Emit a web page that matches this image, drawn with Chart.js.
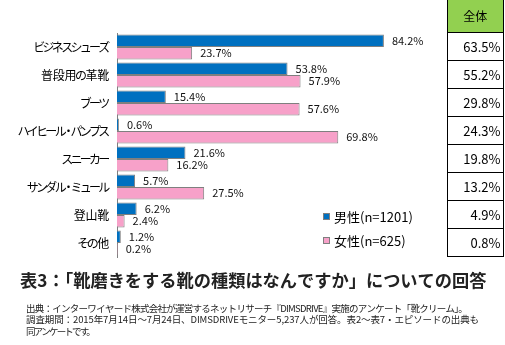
<!DOCTYPE html>
<html>
<head>
<meta charset="utf-8">
<script src="https://cdn.jsdelivr.net/npm/chart.js@4.4.0/dist/chart.umd.min.js"></script>
<style>
    html, body { margin: 0; padding: 0; background: #fff; }
    #chart { display: block; }
</style>
</head>
<body>
<canvas id="chart" width="505" height="345"></canvas>
<script>
const categories = ["ビジネスシューズ", "普段用の革靴", "ブーツ", "ハイヒール・パンプス", "スニーカー", "サンダル・ミュール", "登山靴", "その他"],
    male = [84.2, 53.8, 15.4, 0.6, 21.6, 5.7, 6.2, 1.2],
    female = [23.7, 57.9, 57.6, 69.8, 16.2, 27.5, 2.4, 0.2],
    total = [63.5, 55.2, 29.8, 24.3, 19.8, 13.2, 4.9, 0.8],
    seriesNames = ["男性(n=1201)", "女性(n=625)"],
    tableHead = "全体",
    title = "表3：「靴磨きをする靴の種類はなんですか」についての回答",
    notes = [
        "出典：インターワイヤード株式会社が運営するネットリサーチ『DIMSDRIVE』実施のアンケート「靴クリーム」。",
        "調査期間：2015年7月14日～7月24日、DIMSDRIVEモニター5,237人が回答。表2～表7・エピソードの出典も",
        "同アンケートです。"
    ],
    noteWidths = [441, 453, 68];

const FONT = '"Noto Sans CJK JP", "Noto Sans", sans-serif',
    BLUE = "#0070c0",
    PINK = "#f7a1c9",
    EDGE = "#7f7f7f";

const pct = v => v.toFixed(1) + "%";

// fits text into a given width by adjusting size
function fitFont(ctx, text, width, weight) {
    let size = 20;
    ctx.font = `${weight} ${size}px ${FONT}`;
    size = size * width / ctx.measureText(text).width;
    ctx.font = `${weight} ${size}px ${FONT}`;
}

// fits text into a given width by adjusting letter spacing
function fitSpacing(ctx, text, width) {
    ctx.letterSpacing = "0px";
    const gap = (width - ctx.measureText(text).width) / text.length;
    ctx.letterSpacing = gap + "px";
}

// kana are narrower than kanji in the original font
function advance(ch) {
    if (ch === "・") return 6.5;
    if (/[\u4e00-\u9fff]/.test(ch)) return 11.7;
    return 9.3;
}

function drawLabel(ctx, text, right, cy) {
    const chars = [...text],
        total = chars.reduce((s, ch) => s + advance(ch), 0);
    let x = right - total;
    chars.forEach(ch => {
        const w = advance(ch);
        ctx.fillText(ch, x + w / 2, cy);
        x += w;
    });
}

const overlay = {
    id: "overlay",
    afterDraw(c) {
        const ctx = c.ctx,
            y = c.scales.y,
            area = c.chartArea,
            step = (area.bottom - area.top) / categories.length;

        ctx.save();
        ctx.textBaseline = "middle";

        // category labels
        ctx.font = `12px ${FONT}`;
        ctx.fillStyle = "#000";
        ctx.textAlign = "center";
        y.ticks.forEach((t, i) => {
            drawLabel(ctx, categories[t.value], area.left - 8, y.getPixelForTick(i));
        });

        // value labels
        ctx.font = `11px ${FONT}`;
        ctx.fillStyle = "#111";
        ctx.textAlign = "left";
        c.data.datasets.forEach((ds, di) => {
            c.getDatasetMeta(di).data.forEach((bar, i) => {
                ctx.fillText(pct(ds.data[i]), bar.x + 8, bar.y);
            });
        });

        // table
        const tl = 447, tr = 503.5;
        ctx.fillStyle = "#92d050";
        ctx.fillRect(tl, 0, tr - tl, area.top - 1);
        ctx.strokeStyle = "#000";
        ctx.lineWidth = 1;
        ctx.beginPath();
        ctx.moveTo(tl + 0.5, 0);
        ctx.lineTo(tl + 0.5, area.bottom);
        ctx.moveTo(tr, 0);
        ctx.lineTo(tr, area.bottom);
        for (let i = 0; i <= categories.length; i++) {
            const ly = Math.round(area.top + step * i) - 0.5;
            ctx.moveTo(tl, ly);
            ctx.lineTo(tr, ly);
        }
        ctx.stroke();
        ctx.fillStyle = "#000";
        ctx.font = `12px ${FONT}`;
        ctx.textAlign = "center";
        ctx.fillText(tableHead, (tl + tr) / 2, area.top / 2);
        ctx.font = `13px ${FONT}`;
        ctx.textAlign = "right";
        total.forEach((v, i) => {
            ctx.fillText(pct(v), tr - 3, y.getPixelForValue(i));
        });

        // legend
        ctx.textAlign = "left";
        ctx.font = `13px ${FONT}`;
        [BLUE, PINK].forEach((col, i) => {
            const ly = 217 + i * 24;
            ctx.fillStyle = col;
            ctx.fillRect(323, ly - 4, 7, 7);
            ctx.strokeStyle = EDGE;
            ctx.strokeRect(323.5, ly - 3.5, 6, 6);
            ctx.fillStyle = "#000";
            ctx.fillText(seriesNames[i], 334, ly);
        });

        // title
        ctx.fillStyle = "#222";
        fitFont(ctx, title, 467, "bold");
        ctx.fillText(title, 20, 280);

        // notes
        ctx.font = `9.5px ${FONT}`;
        notes.forEach((n, i) => {
            fitSpacing(ctx, n, noteWidths[i]);
            ctx.fillText(n, 26, 308 + i * 11.5);
        });

        ctx.restore();
    }
};

new Chart(document.getElementById("chart"), {
    type: "bar",
    data: {
        labels: categories,
        datasets: [{
            label: seriesNames[0],
            data: male,
            backgroundColor: BLUE,
            borderColor: EDGE,
            borderWidth: 1,
        }, {
            label: seriesNames[1],
            data: female,
            backgroundColor: PINK,
            borderColor: EDGE,
            borderWidth: 1,
        }]
    },
    options: {
        indexAxis: "y",
        responsive: false,
        animation: false,
        categoryPercentage: 0.9,
        barPercentage: 1,
        layout: {
            padding: { top: 33, right: 71, bottom: 88, left: 0 }
        },
        scales: {
            x: {
                display: false,
                min: 0,
                max: 100
            },
            y: {
                afterFit: scale => { scale.width = 117; },
                grid: { display: false, drawTicks: false },
                border: { color: EDGE, width: 1 },
                ticks: { display: false }
            }
        },
        plugins: {
            legend: { display: false },
            tooltip: { enabled: false }
        }
    },
    plugins: [overlay]
});
</script>
</body>
</html>
